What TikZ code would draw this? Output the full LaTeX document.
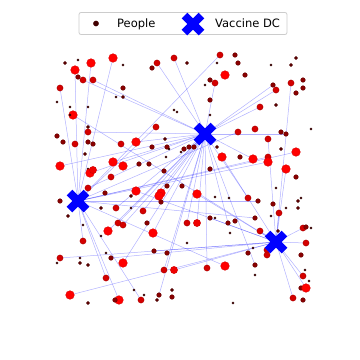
\documentclass[tikz,border=0pt]{standalone}
\usepackage{fontspec}
\setmainfont{DejaVu Sans}
\pgfdeclarelayer{background}
\pgfsetlayers{background,main}

\definecolor{ptinyc}{HTML}{420000}
\definecolor{psmallc}{HTML}{600000}
\definecolor{pdarkc}{HTML}{8A0000}
\definecolor{pmedc}{HTML}{D40000}
\definecolor{pbigc}{HTML}{F00000}
\definecolor{phugec}{HTML}{FF0000}
\definecolor{legendedge}{HTML}{CCCCCC}

\tikzset{
  person/.style={circle, inner sep=0pt, outer sep=0pt, line width=0.4pt},
  ptiny/.style={person, minimum size=2.2pt, fill=ptinyc, draw=ptinyc!75!black},
  psmall/.style={person, minimum size=3.4pt, fill=psmallc, draw=psmallc!75!black},
  pdark/.style={person, minimum size=4.6pt, fill=pdarkc, draw=pdarkc!75!black},
  pmed/.style={person, minimum size=6.2pt, fill=pmedc, draw=pmedc!80!black},
  pbig/.style={person, minimum size=7.2pt, fill=pbigc, draw=pbigc!85!black},
  phuge/.style={person, minimum size=8.6pt, fill=phugec, draw=phugec!85!black},
  link/.style={blue, opacity=0.3, line width=0.5pt},
  legtext/.style={anchor=base west, inner sep=0pt, font=\fontsize{11.5}{14}\selectfont},
  dcmark/.pic={\draw[blue, line width=8pt] (-8.5,-8.5) -- (8.5,8.5) (-8.5,8.5) -- (8.5,-8.5);}
}

\def\people{%
65/63/psmall/0, 78/60/ptiny/0, 91/63/phuge/2, 113/58/phuge/2, 75/70/phuge/2,
78/77/pdark/0, 83/80/pmed/1, 93/80/pmed/1, 123/65/ptiny/0, 60/88/pmed/2,
123/88/pdark/0, 57/102/ptiny/0, 70/107/ptiny/0, 88/107/ptiny/0, 116/97/ptiny/0,
123/97/psmall/0, 73/115/phuge/3, 70/115/ptiny/0, 88/127/psmall/0, 88/132/pmed/1,
57/136/pdark/0, 63/142/pdark/0, 75/144/pmed/0, 88/142/pdark/0, 93/144/pdark/0,
121/144/pmed/0, 136/142/phuge/1, 85/154/psmall/0, 60/166/phuge/1, 88/169/ptiny/0,
90/173/phuge/1, 93/170/pbig/0, 113/162/phuge/1, 123/166/phuge/0, 111/177/pmed/0,
139/164/pdark/0, 149/164/pdark/0, 88/188/pmed/1, 60/201/pdark/0, 68/216/psmall/0,
105/193/pdark/0, 101/208/psmall/0, 116/208/pmed/1, 131/208/ptiny/0, 131/196/psmall/0,
136/191/phuge/3, 118/223/pmed/1, 123/225/pmed/1, 83/225/ptiny/0, 108/231/phuge/1,
101/236/ptiny/0, 83/241/pmed/2, 60/258/pmed/3, 57/263/ptiny/0, 80/258/ptiny/0,
80/263/psmall/0, 88/265/psmall/0, 111/258/pdark/3, 106/253/ptiny/0, 123/263/phuge/1,
106/278/pmed/2, 70/295/phuge/3, 88/303/psmall/0, 119/300/phuge/2, 115/300/pdark/0,
134/290/ptiny/0, 141/300/pmed/2, 144/295/ptiny/0, 157/300/psmall/0, 159/295/pdark/1,
172/290/psmall/0, 172/297/pdark/0, 153/233/phuge/1, 154/251/pdark/3, 167/253/pdark/0,
164/270/pmed/1, 174/270/pbig/3, 187/243/ptiny/0, 161/193/phuge/1, 159/196/phuge/0,
167/186/pdark/0, 182/186/pdark/0, 197/194/phuge/3, 161/202/pdark/0, 143/211/pmed/1,
147/223/pdark/0, 187/223/pmed/1, 197/223/pbig/1, 210/218/pdark/3, 215/218/ptiny/0,
228/223/pdark/1, 235/221/pdark/0, 255/218/pdark/2, 230/233/ptiny/0, 215/197/ptiny/0,
229/198/ptiny/0, 210/169/pdark/0, 164/171/pdark/0, 165/139/psmall/0, 152/147/pdark/0,
167/147/pdark/0, 169/149/ptiny/0, 184/149/pdark/0, 189/147/pdark/0, 194/147/pdark/0,
181/152/ptiny/0, 217/147/psmall/0, 222/157/phuge/3, 166/157/ptiny/0, 156/127/pmed/2,
157/63/pmed/1, 152/68/pdark/0, 174/58/pmed/1, 187/63/psmall/0, 220/55/pmed/2,
217/63/ptiny/0, 225/75/phuge/0, 210/80/pdark/0, 215/83/pmed/1, 205/85/ptiny/0,
210/100/pdark/0, 174/110/ptiny/0, 177/112/ptiny/0, 210/115/ptiny/0, 235/55/pdark/0,
238/63/pdark/0, 271/65/ptiny/0, 296/58/psmall/0, 291/65/psmall/0, 245/75/pdark/0,
273/85/pdark/1, 276/90/pmed/1, 291/83/pmed/3, 303/80/pdark/0, 303/88/pdark/0,
296/93/pdark/0, 276/105/psmall/0, 260/107/pmed/1, 311/129/ptiny/0, 238/132/pmed/2,
255/129/pmed/0, 281/132/pdark/0, 286/134/pdark/1, 268/139/pmed/3, 281/149/psmall/0,
296/152/phuge/2, 240/157/pdark/0, 253/159/phuge/1, 268/157/pmed/2, 268/162/phuge/2,
286/169/phuge/3, 296/177/pdark/0, 276/188/ptiny/0, 248/198/pmed/1, 258/201/pdark/2,
273/204/pdark/0, 298/201/psmall/0, 301/198/ptiny/0, 298/208/psmall/0, 286/208/ptiny/0,
279/213/pmed/3, 271/216/ptiny/0, 303/228/pmed/3, 306/227/pdark/0, 311/228/ptiny/0,
306/243/pmed/3, 301/255/pdark/0, 305/270/ptiny/0, 303/276/pmed/3, 309/281/ptiny/0,
301/288/pdark/0, 306/288/phuge/3, 293/298/pmed/3, 303/300/pdark/0, 255/265/pdark/1,
255/275/ptiny/0, 233/303/ptiny/0, 207/268/pmed/1, 225/266/phuge/2, 267/250/pmed/3,
267/255/pmed/3, 253/248/ptiny/0, 248/253/pdark/0, 260/231/pmed/3, 278/231/psmall/0}

\begin{document}
\begin{tikzpicture}[x=1pt, y=-1pt]
  \useasboundingbox (0,0) rectangle (360,360);

  % Vaccine DC positions
  \coordinate (dc1) at (205,134);
  \coordinate (dc2) at (78,201);
  \coordinate (dc3) at (276,242);

  % Draw people
  \foreach \px/\py/\pc/\pd [count=\i] in \people
    \node[\pc] (p\i) at (\px,\py) {};

  % Draw assignments to DCs
  \begin{pgfonlayer}{background}
    \foreach \px/\py/\pc/\pd [count=\i] in \people
      {\ifnum\pd>0 \draw[link] (p\i.center) -- (dc\pd);\fi}
  \end{pgfonlayer}

  % Draw DCs
  \foreach \n in {1,2,3}
    \pic at (dc\n) {dcmark};

  % Draw legend
  \node[draw=legendedge, fill=white, rounded corners=2pt, line width=0.8pt,
        minimum width=208pt, minimum height=22pt, inner sep=0pt] (legend) at (183,23.5) {};
  \node[person, minimum size=5.2pt, fill=ptinyc, draw=ptinyc] (legdot) at (96,23.5) {};
  \node[legtext] (legpeople) at (117,27.8) {People};
  \pic at (193,24) {dcmark};
  \node[legtext] (legdc) at (215,27.8) {Vaccine DC};
\end{tikzpicture}
\end{document}
